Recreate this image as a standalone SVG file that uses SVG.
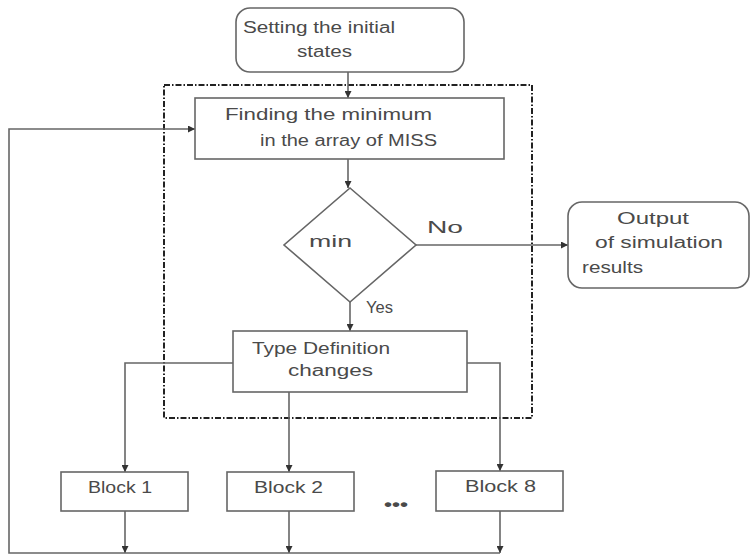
<svg xmlns="http://www.w3.org/2000/svg" width="750" height="555" viewBox="0 0 750 555">
<style>
.box{fill:#fff;stroke:#666;stroke-width:1.6}
.t{font-family:"Liberation Sans",Arial,sans-serif;fill:#4a4a4a;font-size:16px}
.ln{fill:none;stroke:#666;stroke-width:1.6}
.dash{fill:none;stroke:#222;stroke-width:2;stroke-dasharray:6 2 1.5 2}
</style>
<defs>
<marker id="ah" viewBox="0 0 10 10" refX="10" refY="5" markerWidth="7" markerHeight="7" orient="auto" markerUnits="userSpaceOnUse">
<path d="M0,0 L10,5 L0,10 z" fill="#333"/>
</marker>
</defs>
<rect width="750" height="555" fill="#fff"/>
<rect class="dash" x="164" y="85" width="368" height="333"/>
<g id="connectors">
<line class="ln" x1="348" y1="72" x2="348" y2="98" marker-end="url(#ah)"/>
<line class="ln" x1="348" y1="159" x2="348" y2="188" marker-end="url(#ah)"/>
<line class="ln" x1="416" y1="245" x2="568" y2="245" marker-end="url(#ah)"/>
<line class="ln" x1="350" y1="302" x2="350" y2="331" marker-end="url(#ah)"/>
<polyline class="ln" points="233,363 125,363 125,472" marker-end="url(#ah)"/>
<line class="ln" x1="289" y1="392" x2="289" y2="472" marker-end="url(#ah)"/>
<polyline class="ln" points="467,363 500,363 500,471" marker-end="url(#ah)"/>
<line class="ln" x1="125" y1="511" x2="125" y2="553" marker-end="url(#ah)"/>
<line class="ln" x1="289" y1="511" x2="289" y2="553" marker-end="url(#ah)"/>
<line class="ln" x1="500" y1="511" x2="500" y2="553" marker-end="url(#ah)"/>
<polyline class="ln" points="500,553 9,553 9,129 195,129" marker-end="url(#ah)"/>
</g>
<g id="start">
<rect class="box" x="236" y="8" width="228" height="64" rx="14"/>
<text class="t" x="243" y="33" textLength="152" lengthAdjust="spacingAndGlyphs">Setting the initial</text>
<text class="t" x="297" y="57" textLength="55" lengthAdjust="spacingAndGlyphs">states</text>
</g>
<g id="find">
<rect class="box" x="195" y="98" width="309" height="61"/>
<text class="t" x="225" y="120" font-size="17" textLength="207" lengthAdjust="spacingAndGlyphs">Finding the minimum</text>
<text class="t" x="260" y="146" font-size="17" textLength="177" lengthAdjust="spacingAndGlyphs">in the array of MISS</text>
</g>
<g id="decision">
<polygon class="box" points="350,188 416,245 350,302 284,245"/>
<text class="t" x="309" y="247" font-size="17" textLength="43" lengthAdjust="spacingAndGlyphs">min</text>
<text class="t" x="427" y="233" font-size="19" textLength="36" lengthAdjust="spacingAndGlyphs">No</text>
<text class="t" x="366" y="313" font-size="15" textLength="27" lengthAdjust="spacingAndGlyphs">Yes</text>
</g>
<g id="output">
<rect class="box" x="568" y="202" width="181" height="86" rx="14"/>
<text class="t" x="617" y="224" font-size="17" textLength="72" lengthAdjust="spacingAndGlyphs">Output</text>
<text class="t" x="595" y="248" font-size="17" textLength="128" lengthAdjust="spacingAndGlyphs">of simulation</text>
<text class="t" x="582" y="273" font-size="17" textLength="61" lengthAdjust="spacingAndGlyphs">results</text>
</g>
<g id="type">
<rect class="box" x="233" y="331" width="234" height="61"/>
<text class="t" x="252" y="354" textLength="138" lengthAdjust="spacingAndGlyphs">Type Definition</text>
<text class="t" x="288" y="376" textLength="85" lengthAdjust="spacingAndGlyphs">changes</text>
</g>
<g id="block1">
<rect class="box" x="61" y="472" width="127" height="39"/>
<text class="t" x="88" y="493" textLength="64" lengthAdjust="spacingAndGlyphs">Block 1</text>
</g>
<g id="block2">
<rect class="box" x="227" y="472" width="127" height="39"/>
<text class="t" x="254" y="493" textLength="69" lengthAdjust="spacingAndGlyphs">Block 2</text>
</g>
<g id="ellipsis">
<text class="t" x="384" y="510" font-size="18" font-weight="bold" fill="#333" textLength="24" lengthAdjust="spacingAndGlyphs">•••</text>
</g>
<g id="block8">
<rect class="box" x="436" y="471" width="127" height="40"/>
<text class="t" x="465" y="492" textLength="71" lengthAdjust="spacingAndGlyphs">Block 8</text>
</g>
</svg>
